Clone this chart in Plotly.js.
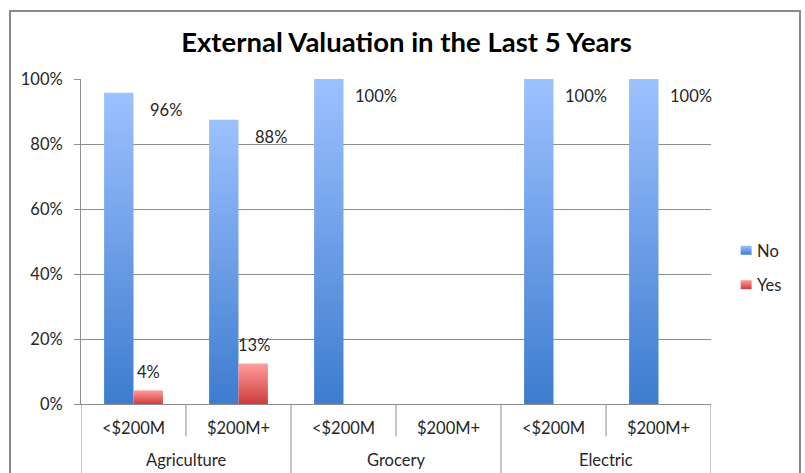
<!DOCTYPE html>
<html>
<head>
<meta charset="utf-8">
<script src="https://cdn.plot.ly/plotly-3.0.1.min.js"></script>
<style>
  html, body { margin: 0; padding: 0; background: #fff; }
  #chart { width: 805px; height: 473px; }
</style>
</head>
<body>
<div id="chart"></div>
<script>
// ---- data ----
var groups = ['Agriculture', 'Grocery', 'Electric'];
var groupOf = [0, 0, 1, 1, 2, 2];
var subcats = ['<$200M', '$200M+', '<$200M', '$200M+', '<$200M', '$200M+'];
var noVals = [0.958, 0.875, 1.0, null, 1.0, 1.0];
var yesVals = [0.042, 0.125, null, null, null, null];
var yTicks = [0, 0.2, 0.4, 0.6, 0.8, 1.0];

var FONT = 'Lato, "Liberation Sans", sans-serif';
var FS = 16.5;
var TXT = '#262626';
var GRID = '#8e8e8e';
var idx = subcats.map(function (_, i) { return i; });

var traces = [
  { type: 'bar', name: 'No', x: idx, y: noVals, marker: { color: '#5f93dd' },
    legendgroup: 'a', hoverinfo: 'skip' },
  { type: 'bar', name: 'Yes', x: idx, y: yesVals, marker: { color: '#e66a6a' },
    legendgroup: 'b', hoverinfo: 'skip' }
];

var fmt = function (v) { return Math.round(v * 100) + '%'; };
var annotations = [];
noVals.forEach(function (v, i) {
  if (v === null) return;
  annotations.push({ x: i, y: v, xref: 'x', yref: 'y', text: fmt(v), showarrow: false,
    xshift: 32, yshift: -17, xanchor: 'center', yanchor: 'middle',
    font: { family: FONT, size: FS, color: TXT } });
});
yesVals.forEach(function (v, i) {
  if (v === null) return;
  annotations.push({ x: i, y: v, xref: 'x', yref: 'y', text: fmt(v), showarrow: false,
    xshift: 15, yshift: 18, xanchor: 'center', yanchor: 'middle',
    font: { family: FONT, size: FS, color: TXT } });
});
groups.forEach(function (g, gi) {
  var members = idx.filter(function (i) { return groupOf[i] === gi; });
  var c = (members[0] + members[members.length - 1]) / 2;
  annotations.push({ x: c, y: -0.172, xref: 'x', yref: 'paper', text: g, showarrow: false,
    xanchor: 'center', yanchor: 'middle',
    font: { family: FONT, size: FS, color: TXT } });
});

var shapes = [];
// boundaries between categories
for (var b = -1; b < subcats.length; b++) {
  var isGroupEdge = (b === -1 || b === subcats.length - 1 || groupOf[b] !== groupOf[b + 1]);
  shapes.push({ type: 'line', xref: 'x', yref: 'paper', x0: b + 0.5, x1: b + 0.5,
    y0: 0, y1: isGroupEdge ? -0.3 : -0.1, line: { color: GRID, width: 1 } });
}
// outer frame
shapes.push({ type: 'rect', xref: 'paper', yref: 'paper', x0: -0.1127, x1: 1.1413,
  y0: -0.4, y1: 1.209, line: { color: '#8a8a8a', width: 2 }, fillcolor: 'rgba(0,0,0,0)' });

var layout = {
  width: 805, height: 473,
  margin: { l: 81, r: 94, t: 79, b: 69, autoexpand: false },
  paper_bgcolor: '#ffffff', plot_bgcolor: '#ffffff',
  font: { family: FONT, size: FS, color: TXT },
  title: { text: '<b>External Valuation in the Last 5 Years</b>', xref: 'container', x: 0.505,
    xanchor: 'center', yref: 'container', y: 0.911, yanchor: 'middle',
    font: { family: FONT, size: 27.5, color: '#000000' } },
  barmode: 'group', bargap: 0.44, bargroupgap: 0,
  xaxis: { range: [-0.5, 5.5], tickmode: 'array', tickvals: idx, ticktext: subcats,
    ticks: 'outside', ticklen: 9, tickcolor: 'rgba(0,0,0,0)', showgrid: false,
    zeroline: false, showline: true, linecolor: GRID, linewidth: 1,
    tickfont: { family: FONT, size: FS, color: TXT }, fixedrange: true },
  yaxis: { range: [0, 1], tickmode: 'array', tickvals: yTicks, tickformat: '.0%',
    ticks: 'outside', ticklen: 6, tickcolor: GRID, ticklabelstandoff: 8,
    showgrid: true, gridcolor: GRID, gridwidth: 1, zeroline: false,
    showline: true, linecolor: GRID, linewidth: 1,
    tickfont: { family: FONT, size: FS, color: TXT }, fixedrange: true },
  showlegend: true,
  legend: { x: 1.024, xanchor: 'left', y: 0.42, yanchor: 'middle', tracegroupgap: 10,
    traceorder: 'grouped', font: { family: FONT, size: FS, color: TXT },
    bgcolor: 'rgba(0,0,0,0)' },
  annotations: annotations,
  shapes: shapes
};

var gd = document.getElementById('chart');
Plotly.newPlot(gd, traces, layout, { staticPlot: true, displayModeBar: false }).then(function () {
  var svgNS = 'http://www.w3.org/2000/svg';
  var defs = gd.querySelector('.main-svg defs');
  function grad(id, top, bottom) {
    var lg = document.createElementNS(svgNS, 'linearGradient');
    lg.setAttribute('id', id);
    lg.setAttribute('x1', '0'); lg.setAttribute('y1', '0');
    lg.setAttribute('x2', '0'); lg.setAttribute('y2', '1');
    [[0, top], [1, bottom]].forEach(function (s) {
      var st = document.createElementNS(svgNS, 'stop');
      st.setAttribute('offset', s[0]);
      st.setAttribute('stop-color', s[1]);
      lg.appendChild(st);
    });
    defs.appendChild(lg);
  }
  grad('gNo', '#9dc1ff', '#3d7ccf');
  grad('gYes', '#ff9e9e', '#cf3c3c');
  var ids = ['gNo', 'gYes'];
  gd.querySelectorAll('.barlayer .trace').forEach(function (t, k) {
    t.querySelectorAll('path').forEach(function (p) { p.style.fill = 'url(#' + ids[k] + ')'; });
  });
  gd.querySelectorAll('.legend .traces').forEach(function (t, k) {
    t.querySelectorAll('.legendpoints path').forEach(function (p) {
      p.style.fill = 'url(#' + ids[k] + ')';
      p.setAttribute('d', 'M5.5,4.5H-5.5V-4.5H5.5Z');
    });
    var txt = t.querySelector('.legendtext');
    if (txt) txt.setAttribute('x', 31);
  });
});
</script>
</body>
</html>
